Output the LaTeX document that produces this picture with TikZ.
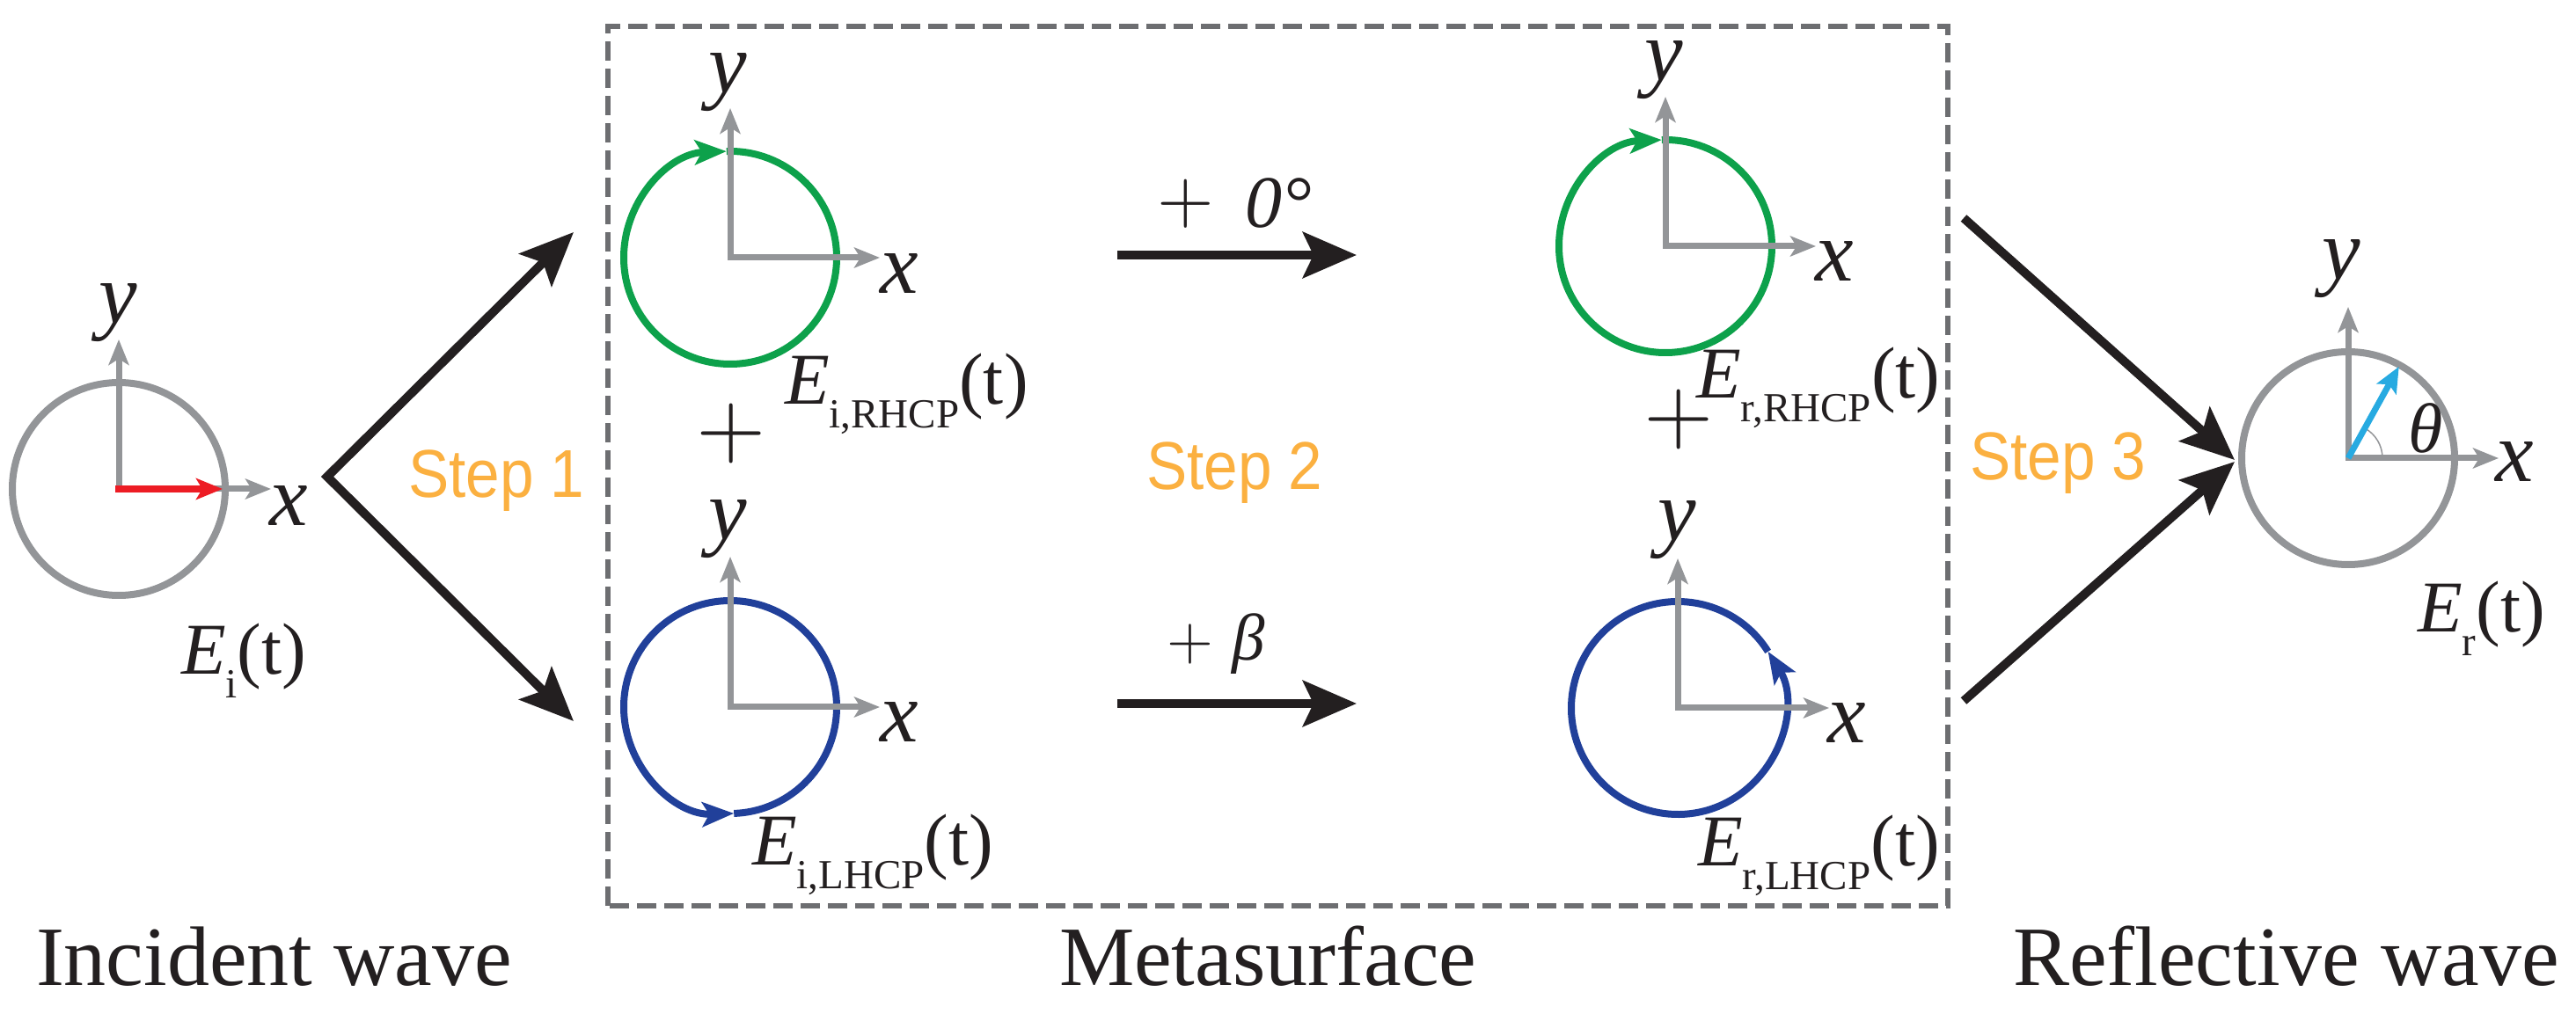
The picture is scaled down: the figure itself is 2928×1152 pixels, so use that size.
\documentclass[tikz,border=0pt]{standalone}
\usepackage{fontspec}
\setmainfont{Liberation Serif}
\newfontfamily\stepfont[FakeStretch=0.9]{Liberation Sans}
\newfontfamily\plusfont{lmroman10-regular.otf}
\usetikzlibrary{arrows.meta,calc}
\definecolor{axisgray}{RGB}{147,149,152}
\definecolor{boxgray}{RGB}{109,110,113}
\definecolor{rhcpgreen}{RGB}{13,161,75}
\definecolor{lhcpblue}{RGB}{33,64,154}
\definecolor{vecred}{RGB}{237,28,36}
\definecolor{veccyan}{RGB}{39,170,225}
\definecolor{steporange}{RGB}{251,176,64}
\definecolor{arrowblack}{RGB}{35,31,32}
\newcommand\Esub[1]{\textit{E}\raisebox{-27pt}{\fontsize{47}{47}\selectfont #1}(t)}
\begin{document}
\begin{tikzpicture}[x=1pt,y=1pt,
  ringline/.style={line width=8pt},
  axisarrows/.style={draw=axisgray, line width=7pt, line join=miter,
    {Stealth[length=29pt,width=23pt,inset=7pt]}-{Stealth[length=29pt,width=23pt,inset=7pt]}},
  smalltip/.style={-{Stealth[length=36pt,width=28pt,inset=8pt]}},
  bigline/.style={draw=arrowblack, line width=10pt},
  bigtip/.style={-{Stealth[length=61pt,width=52pt,inset=12pt]}},
  lbl/.style={inner sep=0pt, outer sep=0pt},
  axlabel/.style={lbl, text=arrowblack, font=\fontsize{98}{98}\selectfont\itshape},
  elabel/.style={lbl, anchor=base west, text=arrowblack, font=\fontsize{83}{83}\selectfont},
  steplabel/.style={lbl, anchor=base west, text=steporange, font=\stepfont\fontsize{77}{77}\selectfont},
  titletext/.style={lbl, anchor=base west, text=arrowblack, font=\fontsize{96}{96}\selectfont},
  plussign/.style={lbl, text=arrowblack, font=\plusfont\fontsize{#1}{#1}\selectfont},
  dashbox/.style={draw=boxgray, line width=6pt, dash pattern=on 22pt off 9pt}
]
\useasboundingbox (0,0) rectangle (2928,1152);

% ---------- metasurface box ----------
\draw[dashbox] (691,122) rectangle (2214,1122);

% ---------- incident wave ----------
\coordinate (oI) at (135,596);
\draw[ringline, draw=axisgray] (oI) circle[radius=121];
\coordinate (oIy) at (135,766);
\coordinate (oIx) at (308,596);
\draw[axisarrows] (oIy) -- (oI) -- (oIx);
\coordinate (redstart) at (131,596);
\coordinate (redtip) at (253,596);
\draw[draw=vecred, line width=8pt, -{Stealth[length=30pt,width=24pt,inset=7pt]}] (redstart) -- (redtip);
\node[axlabel] (yI) at (134,796) {y};
\node[axlabel] (xI) at (328,577) {x};
\node[elabel] (EI) at (206,385) {\Esub{i}};

% ---------- step 1 ----------
\coordinate (s1v) at (372,610);
\coordinate (s1a) at (652,888);
\coordinate (s1b) at (652,332);
\draw[bigline, line join=miter,
  {Stealth[length=61pt,width=52pt,inset=12pt]}-{Stealth[length=61pt,width=52pt,inset=12pt]}]
  (s1a) -- (s1v) -- (s1b);
\node[steplabel] (st1) at (464,586) {Step 1};

% ---------- incident RHCP ----------
\coordinate (oG1) at (830,859);
\draw[ringline, draw=rhcpgreen, smalltip]
  ([shift={(92:121)}]oG1) arc[start angle=92, end angle=-268, radius=121];
\coordinate (oG1y) at (830,1029);
\coordinate (oG1x) at (1000,859);
\draw[axisarrows] (oG1y) -- (oG1) -- (oG1x);
\node[axlabel] (yG1) at (827,1058) {y};
\node[axlabel] (xG1) at (1022,841) {x};
\node[elabel] (EG1) at (892,692) {\Esub{i,RHCP}};
\node[plussign=102] (p1) at (831,659) {+};

% ---------- incident LHCP ----------
\coordinate (oB1) at (830,348);
\draw[ringline, draw=lhcpblue, smalltip]
  ([shift={(-88:121)}]oB1) arc[start angle=-88, end angle=272, radius=121];
\coordinate (oB1y) at (830,519);
\coordinate (oB1x) at (1000,348);
\draw[axisarrows] (oB1y) -- (oB1) -- (oB1x);
\node[axlabel] (yB1) at (827,550) {y};
\node[axlabel] (xB1) at (1022,331) {x};
\node[elabel] (EB1) at (855,169) {\Esub{i,LHCP}};

% ---------- step 2 ----------
\coordinate (m1a) at (1270,862);
\coordinate (m1b) at (1542,862);
\coordinate (m2a) at (1270,352);
\coordinate (m2b) at (1542,352);
\draw[bigline, bigtip] (m1a) -- (m1b);
\draw[bigline, bigtip] (m2a) -- (m2b);
\node[plussign=83] (p2) at (1348,920) {+};
\node[lbl, anchor=base west, text=arrowblack, font=\fontsize{84}{84}\selectfont\itshape] (zero) at (1415,893) {0°};
\node[plussign=68] (p3) at (1353,419) {+};
\node[lbl, anchor=base west, text=arrowblack, font=\fontsize{75}{75}\selectfont\itshape] (beta) at (1400,401) {β};
\node[steplabel] (st2) at (1303,595) {Step 2};

% ---------- reflected RHCP ----------
\coordinate (oG2) at (1893,872);
\draw[ringline, draw=rhcpgreen, smalltip]
  ([shift={(92:121)}]oG2) arc[start angle=92, end angle=-268, radius=121];
\coordinate (oG2y) at (1893,1042);
\coordinate (oG2x) at (2064,872);
\draw[axisarrows] (oG2y) -- (oG2) -- (oG2x);
\node[axlabel] (yG2) at (1891,1072) {y};
\node[axlabel] (xG2) at (2085,855) {x};
\node[elabel] (EG2) at (1928,699) {\Esub{r,RHCP}};
\node[plussign=102] (p4) at (1908,675) {+};

% ---------- reflected LHCP ----------
\coordinate (oB2) at (1907,347);
\draw[ringline, draw=lhcpblue, smalltip]
  ([shift={(32:121)}]oB2) arc[start angle=32, end angle=392, radius=121];
\coordinate (oB2y) at (1907,517);
\coordinate (oB2x) at (2079,347);
\draw[axisarrows] (oB2y) -- (oB2) -- (oB2x);
\node[axlabel] (yB2) at (1906,549) {y};
\node[axlabel] (xB2) at (2099,330) {x};
\node[elabel] (EB2) at (1930,168) {\Esub{r,LHCP}};

% ---------- step 3 ----------
\coordinate (s3a) at (2232,904);
\coordinate (s3b) at (2232,355);
\coordinate (s3t1) at (2540,629);
\coordinate (s3t2) at (2540,627);
\draw[bigline, bigtip] (s3a) -- (s3t1);
\draw[bigline, bigtip] (s3b) -- (s3t2);
\node[steplabel] (st3) at (2239,606) {Step 3};

% ---------- reflected wave ----------
\coordinate (oR) at (2669,631);
\draw[ringline, draw=axisgray] (oR) circle[radius=121];
\coordinate (oRy) at (2669,803);
\coordinate (oRx) at (2840,631);
\draw[axisarrows] (oRy) -- (oR) -- (oRx);
\draw[draw=axisgray, line width=1.5pt] ([shift={(0:39)}]oR) arc[start angle=0, end angle=61, radius=39];
\coordinate (cyantip) at ($(oR)+(61:119)$);
\draw[draw=veccyan, line width=7pt, -{Stealth[length=29pt,width=25pt,inset=6pt]}] (oR) -- (cyantip);
\node[lbl, text=arrowblack, font=\fontsize{80}{80}\selectfont\itshape] (theta) at (2757,665) {θ};
\node[axlabel] (yR) at (2661,846) {y};
\node[axlabel] (xR) at (2858,627) {x};
\node[elabel] (ER) at (2748,433) {\Esub{r}};

% ---------- titles ----------
\node[titletext] (tInc) at (41,32) {Incident wave};
\node[titletext] (tMeta) at (1204,32) {Metasurface};
\node[titletext] (tRefl) at (2288,32) {Reflective wave};
\end{tikzpicture}
\end{document}
